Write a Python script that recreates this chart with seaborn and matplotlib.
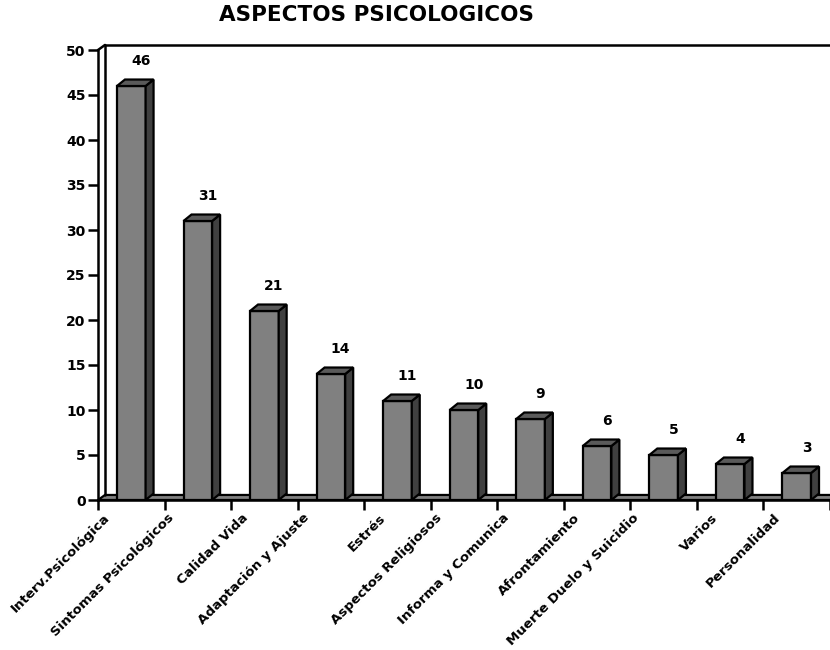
import numpy as np
import matplotlib
matplotlib.use("Agg")
import matplotlib.pyplot as plt
from matplotlib.patches import Polygon
import seaborn as sns

categorias = ["Interv.Psicológica", "Sintomas Psicológicos", "Calidad Vida",
              "Adaptación y Ajuste", "Estrés", "Aspectos Religiosos",
              "Informa y Comunica", "Afrontamiento", "Muerte Duelo y Suicidio",
              "Varios", "Personalidad"]
valores = [46, 31, 21, 14, 11, 10, 9, 6, 5, 4, 3]
ticks_y = list(range(0, 51, 5))

sns.set_style("white")
plt.rcParams['font.family'] = ['DejaVu Sans']
plt.rcParams['text.color'] = 'black'
plt.rcParams['xtick.color'] = 'black'
plt.rcParams['ytick.color'] = 'black'

fig = plt.figure(figsize=(8.3, 6.5), dpi=100)
ax = fig.add_axes([98 / 830, 150 / 650, 732 / 830, 450 / 650])

sns.barplot(x=categorias, y=valores, color='#808080', width=0.43,
            edgecolor='black', linewidth=1.6, saturation=1, ax=ax, zorder=3)

ax.set_xlim(-0.5, len(categorias) - 0.5)
ax.set_ylim(0, 50)

# profundidad 3d (en unidades de datos)
dx_b, dy_b = 0.12, 0.72
dx_w, dy_w = 0.105, 0.56
x0_ax, x1_ax = -0.5, len(categorias) - 0.5

# piso
piso = Polygon([(x0_ax, 0), (x1_ax, 0), (x1_ax + dx_w, dy_w), (x0_ax + dx_w, dy_w)],
               closed=True, facecolor='#808080', edgecolor='black', lw=1.6,
               clip_on=False, zorder=2)
ax.add_patch(piso)

# paredes
ax.plot([x0_ax + dx_w, x0_ax + dx_w], [dy_w, 50 + dy_w], color='black', lw=1.8,
        clip_on=False, zorder=2)
ax.plot([x0_ax + dx_w, x1_ax + dx_w], [50 + dy_w, 50 + dy_w], color='black', lw=1.8,
        clip_on=False, zorder=2)
ax.plot([x0_ax, x0_ax + dx_w], [50, 50 + dy_w], color='black', lw=1.8,
        clip_on=False, zorder=2)

# caras laterales y superiores
for p, v in zip(list(ax.patches)[:len(valores)], valores):
    x = p.get_x()
    w = p.get_width()
    h = p.get_height()
    lado = Polygon([(x + w, 0), (x + w, h), (x + w + dx_b, h + dy_b), (x + w + dx_b, dy_b)],
                   closed=True, facecolor='#404040', edgecolor='black', lw=1.6, zorder=3)
    tapa = Polygon([(x, h), (x + w, h), (x + w + dx_b, h + dy_b), (x + dx_b, h + dy_b)],
                   closed=True, facecolor='#5a5a5a', edgecolor='black', lw=1.6, zorder=3)
    ax.add_patch(lado)
    ax.add_patch(tapa)
    ax.annotate(str(v), (x + w / 2, h), xytext=(7, 18), textcoords='offset points',
                ha='center', va='center', fontsize=10, fontweight='bold', color='black')

for s in ['top', 'right']:
    ax.spines[s].set_visible(False)
for s in ['left', 'bottom']:
    ax.spines[s].set_linewidth(1.8)
    ax.spines[s].set_color('black')
    ax.spines[s].set_zorder(4)

ax.set_yticks(ticks_y)
ax.set_yticklabels([str(t) for t in ticks_y], fontsize=10, fontweight='bold')
ax.tick_params(axis='y', length=7, width=1.8, direction='out', color='black', pad=2, left=True)

# etiquetas largas se corren un poco a la izquierda, como en el original
pos_lab = np.array([i - 0.5 + (19 - 0.75 * len(c)) / 66.5 for i, c in enumerate(categorias)])
ax.set_xticks(pos_lab)
ax.set_xticklabels(categorias, rotation=45, ha='right', va='top',
                   rotation_mode='anchor', fontsize=9.6, fontweight='bold')
ax.set_xticks(np.arange(len(categorias) + 1) - 0.5, minor=True)
ax.tick_params(axis='x', which='major', length=0, pad=8)
ax.tick_params(axis='x', which='minor', length=7, width=1.8, direction='out',
               color='black', bottom=True)
ax.set_xlabel('')
ax.set_ylabel('')

fig.text(376 / 830, 1 - 15 / 650, 'ASPECTOS PSICOLOGICOS', ha='center', va='center',
         fontsize=15.5, fontweight='bold')

fig.savefig('out.png', dpi=100)
